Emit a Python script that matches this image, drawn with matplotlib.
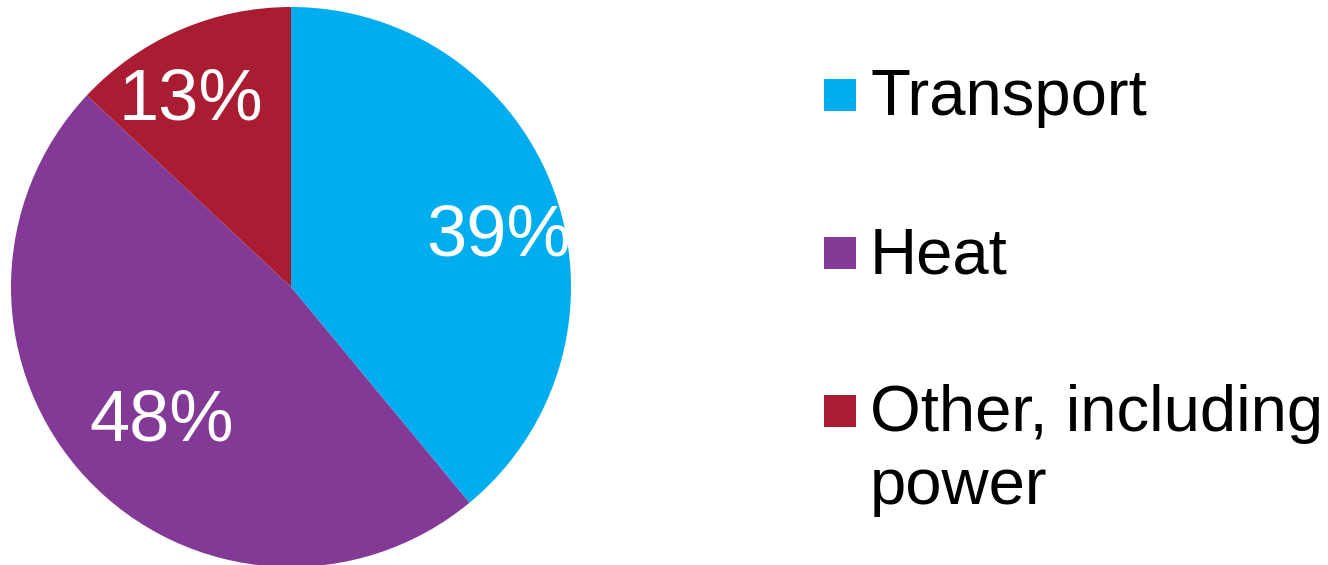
"""
Pie chart: share of final energy use by sector.
"""

import matplotlib

matplotlib.use("Agg")
import matplotlib.pyplot as plt  # noqa: E402
import numpy as np
from matplotlib.patches import Rectangle

plt.rcParams["font.family"] = ["Liberation Sans", "DejaVu Sans"]

# data
categories = ["Transport", "Heat", "Other, including\npower"]
shares = [39, 48, 13]
colors = ["#00AEEF", "#833A97", "#A91C31"]

# label placement tweaks (fraction of radius, angle nudge in degrees)
label_radius = [0.77, 0.65, 0.776]
label_nudge = [-4.5, 1.4, 4.0]

W, H = 1328, 565
fig = plt.figure(figsize=(W / 100, H / 100), dpi=100)

# pie axes: centre ~ (291, 287) px, radius ~ 280 px
cx, cy, r = 291, 287, 280
ax = fig.add_axes([(cx - r) / W, (H - cy - r) / H, 2 * r / W, 2 * r / H])
wedges, _, autotexts = ax.pie(
    shares,
    colors=colors,
    startangle=90,
    counterclock=False,
    radius=1.0,
    autopct=lambda p: f"{p:.0f}%",
    wedgeprops=dict(linewidth=0),
    textprops=dict(color="white", fontsize=52),
)
ax.set_xlim(-1, 1)
ax.set_ylim(-1, 1)
ax.set_aspect("equal")
ax.axis("off")

cap_half = 0.716 * 52 * (100 / 72) / 2 / r  # half cap height in data units
for w, t, rad, nudge in zip(wedges, autotexts, label_radius, label_nudge):
    mid = np.deg2rad((w.theta1 + w.theta2) / 2 + nudge)
    t.set_position((rad * np.cos(mid), rad * np.sin(mid) - cap_half))
    t.set_va("baseline")
    t.set_ha("center")

# manual legend
sq = 32
sq_x = 824
text_x = 870
line_step = 73
baselines = [115, 273, 431]
for label, color, base in zip(categories, colors, baselines):
    sq_cy = base - 20
    fig.add_artist(
        Rectangle(
            (sq_x / W, (H - sq_cy - sq / 2) / H),
            sq / W,
            sq / H,
            transform=fig.transFigure,
            facecolor=color,
            edgecolor="none",
        )
    )
    for i, line in enumerate(label.split("\n")):
        fig.text(
            text_x / W,
            (H - base - i * line_step) / H,
            line,
            fontsize=47,
            color="black",
            ha="left",
            va="baseline",
        )

fig.savefig("out.png", dpi=100)
plt.close(fig)
